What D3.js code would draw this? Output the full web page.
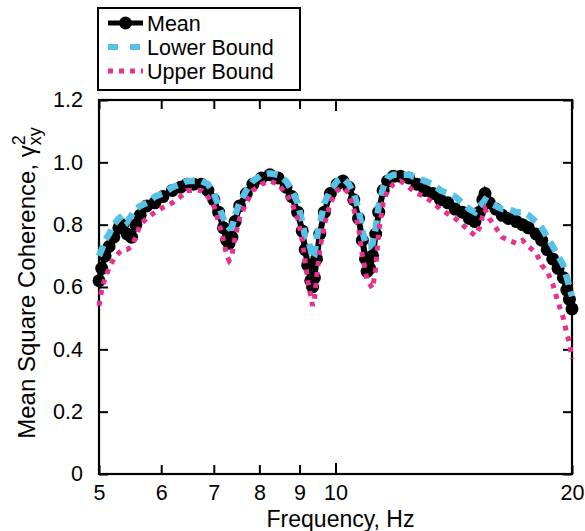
<!DOCTYPE html>
<html>
<head>
<meta charset="utf-8">
<script src="https://cdn.jsdelivr.net/npm/d3@7"></script>
<style>
  body { margin: 0; background: #fff; }
  svg text { font-family: "Liberation Sans", Arial, Helvetica, sans-serif; fill: #000; }
</style>
</head>
<body>
<div id="chart"></div>
<script>
// frequency grid (Hz), shared by all three series
var freqs = [5.00, 5.04, 5.09, 5.15, 5.22, 5.30, 5.36, 5.43, 5.50, 5.57, 5.64, 5.75, 5.89, 6.03, 6.20, 6.35, 6.47, 6.60, 6.75, 6.88,
  7.00, 7.10, 7.20, 7.27, 7.32, 7.38, 7.45, 7.55, 7.70, 7.85, 8.05, 8.25, 8.45, 8.65, 8.80, 8.95, 9.07, 9.15, 9.22, 9.30,
  9.35, 9.40, 9.46, 9.55, 9.68, 9.85, 10.05, 10.22, 10.40, 10.55, 10.70, 10.82, 10.92, 10.97, 11.05, 11.15, 11.25, 11.35, 11.50, 11.65,
  11.85, 12.10, 12.40, 12.70, 13.00, 13.30, 13.60, 13.90, 14.20, 14.50, 14.80, 15.05, 15.25, 15.40, 15.50, 15.70, 16.00, 16.30, 16.60, 17.00,
  17.30, 17.60, 18.00, 18.30, 18.60, 18.90, 19.20, 19.50, 19.70, 19.85, 20.00];

var meanVals = [0.62, 0.66, 0.70, 0.73, 0.76, 0.79, 0.80, 0.77, 0.76, 0.80, 0.83, 0.86, 0.87, 0.89, 0.91, 0.92, 0.93, 0.93, 0.93, 0.91,
  0.88, 0.84, 0.79, 0.75, 0.74, 0.76, 0.81, 0.86, 0.90, 0.93, 0.95, 0.96, 0.95, 0.92, 0.89, 0.84, 0.78, 0.72, 0.67, 0.62,
  0.60, 0.63, 0.69, 0.77, 0.84, 0.90, 0.93, 0.94, 0.92, 0.88, 0.82, 0.75, 0.69, 0.65, 0.66, 0.70, 0.77, 0.84, 0.91, 0.94,
  0.955, 0.955, 0.95, 0.93, 0.91, 0.90, 0.88, 0.87, 0.85, 0.84, 0.82, 0.81, 0.84, 0.88, 0.90, 0.87, 0.85, 0.83, 0.82, 0.81,
  0.80, 0.79, 0.77, 0.75, 0.72, 0.69, 0.66, 0.63, 0.59, 0.56, 0.53];

var lowerVals = [0.70, 0.72, 0.75, 0.77, 0.80, 0.82, 0.83, 0.81, 0.83, 0.85, 0.86, 0.87, 0.89, 0.90, 0.92, 0.93, 0.94, 0.94, 0.94, 0.93,
  0.90, 0.86, 0.82, 0.80, 0.79, 0.79, 0.83, 0.87, 0.91, 0.94, 0.96, 0.965, 0.96, 0.94, 0.91, 0.87, 0.81, 0.76, 0.755, 0.72,
  0.69, 0.70, 0.755, 0.80, 0.87, 0.91, 0.94, 0.95, 0.93, 0.90, 0.85, 0.78, 0.74, 0.73, 0.73, 0.74, 0.79, 0.86, 0.92, 0.95,
  0.96, 0.96, 0.96, 0.95, 0.94, 0.93, 0.91, 0.90, 0.89, 0.87, 0.85, 0.84, 0.86, 0.87, 0.88, 0.87, 0.86, 0.85, 0.85, 0.84,
  0.84, 0.83, 0.81, 0.79, 0.76, 0.73, 0.70, 0.67, 0.63, 0.60, 0.57];

var upperVals = [0.54, 0.59, 0.63, 0.66, 0.69, 0.71, 0.72, 0.72, 0.73, 0.76, 0.80, 0.82, 0.84, 0.855, 0.87, 0.89, 0.91, 0.91, 0.91, 0.89,
  0.86, 0.81, 0.75, 0.70, 0.685, 0.70, 0.76, 0.82, 0.87, 0.91, 0.93, 0.94, 0.93, 0.90, 0.87, 0.82, 0.75, 0.68, 0.62, 0.57,
  0.54, 0.56, 0.63, 0.72, 0.80, 0.87, 0.91, 0.92, 0.90, 0.85, 0.79, 0.70, 0.65, 0.62, 0.61, 0.595, 0.66, 0.78, 0.87, 0.91,
  0.93, 0.94, 0.92, 0.90, 0.89, 0.87, 0.85, 0.835, 0.82, 0.80, 0.78, 0.765, 0.79, 0.83, 0.85, 0.82, 0.79, 0.76, 0.75, 0.74,
  0.75, 0.73, 0.71, 0.67, 0.65, 0.61, 0.55, 0.50, 0.45, 0.42, 0.37];

var xTicks = [5, 6, 7, 8, 9, 10, 20];
var yTicks = [0, 0.2, 0.4, 0.6, 0.8, 1.0, 1.2];
var legendNames = ["Mean", "Lower Bound", "Upper Bound"];

var W = 585, H = 531;
var margin = {left: 99, right: 13, top: 100, bottom: 57};
var iw = W - margin.left - margin.right,
    ih = H - margin.top - margin.bottom;

var svg = d3.select("#chart").append("svg")
    .attr("width", W)
    .attr("height", H);

var g = svg.append("g")
    .attr("transform", "translate(" + margin.left + "," + margin.top + ")");

var x = d3.scaleLog().domain([5, 20]).range([0, iw]);
var y = d3.scaleLinear().domain([0, 1.2]).range([ih, 0]);

// ticks inside the frame on all four sides
var fmtX = function(d) { return d; };
var fmtY = function(d) { return d === 0 ? "0" : d3.format(".1f")(d); };

var bottomAx = g.append("g").attr("transform", "translate(0," + ih + ")")
    .call(d3.axisBottom(x).tickValues(xTicks).tickFormat(fmtX)
      .tickSizeInner(-9).tickSizeOuter(0).tickPadding(11));
var topAx = g.append("g")
    .call(d3.axisTop(x).tickValues(xTicks).tickFormat("")
      .tickSizeInner(-9).tickSizeOuter(0));
var leftAx = g.append("g")
    .call(d3.axisLeft(y).tickValues(yTicks).tickFormat(fmtY)
      .tickSizeInner(-9).tickSizeOuter(0).tickPadding(16));
var rightAx = g.append("g").attr("transform", "translate(" + iw + ",0)")
    .call(d3.axisRight(y).tickValues(yTicks).tickFormat("")
      .tickSizeInner(-9).tickSizeOuter(0));

[bottomAx, topAx, leftAx, rightAx].forEach(function(a) {
  a.select(".domain").remove();
  a.selectAll("line").attr("stroke", "#000").attr("stroke-width", 2);
  a.selectAll("text").style("font-size", "21.5px").attr("fill", "#000");
});
bottomAx.selectAll("text").attr("dy", "0.71em");
// longer tick at 10
bottomAx.selectAll(".tick").filter(function(d) { return d === 10; }).select("line").attr("y2", -11);
topAx.selectAll(".tick").filter(function(d) { return d === 10; }).select("line").attr("y2", 11);

g.append("rect")
    .attr("width", iw).attr("height", ih)
    .attr("fill", "none").attr("stroke", "#000").attr("stroke-width", 2.2);

// series
var rows = freqs.map(function(f, i) {
  return {f: f, mean: meanVals[i], lower: lowerVals[i], upper: upperVals[i]};
});

function lineFor(key) {
  return d3.line().x(function(d) { return x(d.f); }).y(function(d) { return y(d[key]); });
}

g.append("path").datum(rows)
    .attr("d", lineFor("mean"))
    .attr("fill", "none").attr("stroke", "#000").attr("stroke-width", 6);
g.append("g").selectAll("circle").data(rows).enter().append("circle")
    .attr("cx", function(d) { return x(d.f); })
    .attr("cy", function(d) { return y(d.mean); })
    .attr("r", 6.5)
    .attr("fill", "#000");

g.append("path").datum(rows)
    .attr("d", lineFor("lower"))
    .attr("fill", "none").attr("stroke", "#56c3e6").attr("stroke-width", 6.5)
    .attr("stroke-dasharray", "11,7");

g.append("path").datum(rows)
    .attr("d", lineFor("upper"))
    .attr("fill", "none").attr("stroke", "#e8308f").attr("stroke-width", 5)
    .attr("stroke-dasharray", "5,6");

// axis titles
svg.append("text")
    .attr("x", margin.left + iw / 2 + 5).attr("y", 527)
    .attr("text-anchor", "middle")
    .style("font-size", "23px")
    .text("Frequency, Hz");

var yl = svg.append("text")
    .attr("transform", "translate(35,283) rotate(-90)")
    .attr("text-anchor", "middle")
    .style("font-size", "24px");
yl.append("tspan").text("Mean Square Coherence, \u03b3");
yl.append("tspan").attr("dy", -10).style("font-size", "18px").text("2");
yl.append("tspan").attr("dx", -10).attr("dy", 16).style("font-size", "18px").text("xy");

// legend
var leg = svg.append("g");
leg.append("rect")
    .attr("x", 98).attr("y", 8).attr("width", 202).attr("height", 82)
    .attr("fill", "#fff").attr("stroke", "#000").attr("stroke-width", 2);

var legY = [23, 47, 71];
var legStyle = [
  {stroke: "#000", width: 5, dash: null},
  {stroke: "#56c3e6", width: 6, dash: "10,12"},
  {stroke: "#e8308f", width: 5, dash: "5,6"}
];
legendNames.forEach(function(name, i) {
  var s = legStyle[i];
  var ln = leg.append("line")
      .attr("x1", 108).attr("x2", 143).attr("y1", legY[i]).attr("y2", legY[i])
      .attr("stroke", s.stroke).attr("stroke-width", s.width);
  if (s.dash) ln.attr("stroke-dasharray", s.dash);
  if (i === 0) {
    leg.append("circle").attr("cx", 125.5).attr("cy", legY[i]).attr("r", 6.5).attr("fill", "#000");
  }
  leg.append("text")
      .attr("x", 147).attr("y", legY[i] + 7.5)
      .style("font-size", "21.5px")
      .text(name);
});
</script>
</body>
</html>
